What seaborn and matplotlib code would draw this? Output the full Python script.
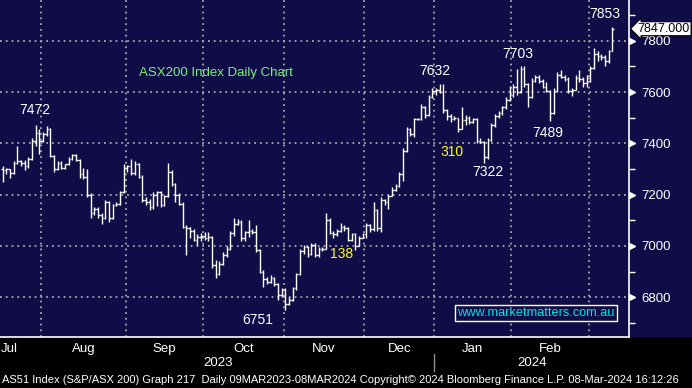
import matplotlib
matplotlib.use("Agg")
import numpy as np
import matplotlib.pyplot as plt
import seaborn as sns
from matplotlib.patches import Rectangle

# ASX200 daily OHLC, mid Jul 2023 -> 8 Mar 2024
month_names = ["Jul", "Aug", "Sep", "Oct", "Nov", "Dec", "Jan", "Feb"]
month_days = [11, 23, 21, 22, 22, 19, 21, 21, 7]   # bars per month (Jul partial, Mar partial)

open_px = [
    7300, 7295, 7300, 7285, 7325, 7330, 7325, 7310, 7340, 7410, 7440,
    7410, 7435, 7455, 7350, 7300, 7325, 7305, 7318, 7340, 7355, 7335, 7280, 7270, 7200, 7130, 7145, 7120, 7110, 7170, 7110, 7160, 7165, 7210,
    7305, 7310, 7285, 7320, 7270, 7180, 7170, 7150, 7200, 7210, 7160, 7195, 7290, 7240, 7200, 7165, 7075, 7070, 7060, 7025, 7035,
    7040, 7030, 7035, 6925, 6890, 6930, 6965, 6990, 7050, 7085, 7095, 7030, 7055, 7060, 7055, 6985, 6900, 6870, 6860, 6875, 6850, 6810,
    6830, 6775, 6790, 6835, 6890, 6980, 6995, 6970, 7005, 6965, 6990, 6990, 7100, 7050, 7045, 7060, 7075, 7070, 7025, 7045, 7000, 7030,
    7045, 7080, 7065, 7140, 7070, 7180, 7170, 7195, 7220, 7235, 7280, 7370, 7455, 7435, 7495, 7495, 7540, 7510, 7580,
    7605, 7610, 7600, 7530, 7505, 7495, 7500, 7455, 7490, 7500, 7485, 7495, 7410, 7405, 7345, 7415, 7470, 7505, 7520, 7540, 7570,
    7590, 7620, 7600, 7690, 7630, 7580, 7645, 7660, 7645, 7620, 7605, 7520, 7605, 7665, 7660, 7650, 7605, 7610, 7655, 7650, 7635,
    7655, 7695, 7750, 7740, 7735, 7720, 7760,
]
high_px = [
    7310, 7305, 7300, 7330, 7390, 7335, 7335, 7345, 7420, 7472, 7455,
    7445, 7466, 7458, 7355, 7330, 7330, 7320, 7345, 7360, 7360, 7340, 7305, 7300, 7205, 7150, 7150, 7130, 7180, 7175, 7165, 7170, 7215, 7320,
    7315, 7340, 7330, 7325, 7275, 7190, 7185, 7210, 7215, 7215, 7200, 7325, 7295, 7245, 7205, 7170, 7080, 7075, 7065, 7045, 7050,
    7055, 7055, 7040, 6945, 6940, 6975, 7000, 7060, 7110, 7105, 7100, 7060, 7100, 7065, 7080, 6990, 6905, 6880, 6885, 6880, 6855, 6835,
    6835, 6800, 6840, 6895, 6990, 7005, 7000, 7010, 7010, 6995, 6995, 7130, 7110, 7060, 7065, 7090, 7080, 7075, 7050, 7050, 7040, 7050,
    7090, 7085, 7170, 7145, 7190, 7185, 7200, 7230, 7240, 7290, 7380, 7465, 7460, 7500, 7500, 7555, 7545, 7590, 7615,
    7615, 7632, 7630, 7535, 7515, 7505, 7500, 7540, 7510, 7505, 7500, 7500, 7420, 7410, 7420, 7480, 7515, 7525, 7545, 7580, 7625,
    7630, 7690, 7703, 7700, 7635, 7655, 7665, 7665, 7650, 7640, 7610, 7615, 7680, 7685, 7665, 7660, 7615, 7665, 7685, 7660, 7665,
    7700, 7770, 7760, 7750, 7745, 7765, 7853,
]
low_px = [
    7250, 7280, 7265, 7280, 7320, 7310, 7295, 7305, 7335, 7390, 7360,
    7405, 7430, 7345, 7290, 7295, 7300, 7300, 7315, 7335, 7330, 7265, 7260, 7190, 7110, 7120, 7110, 7085, 7105, 7095, 7105, 7155, 7160, 7205,
    7290, 7275, 7275, 7265, 7170, 7160, 7140, 7145, 7155, 7150, 7155, 7190, 7235, 7170, 7160, 7070, 6965, 7030, 7020, 7005, 7020,
    7025, 7020, 6915, 6875, 6885, 6925, 6955, 6985, 7040, 7080, 7020, 7020, 7035, 7045, 6975, 6895, 6840, 6850, 6855, 6845, 6790, 6800,
    6751, 6770, 6785, 6830, 6885, 6970, 6955, 6965, 6955, 6955, 6980, 6990, 7045, 7030, 7040, 7055, 7060, 7020, 7020, 6985, 7000, 7030,
    7030, 7055, 7060, 7060, 7055, 7160, 7145, 7195, 7215, 7230, 7255, 7365, 7430, 7425, 7490, 7490, 7500, 7505, 7575,
    7590, 7595, 7520, 7490, 7485, 7490, 7445, 7455, 7470, 7475, 7480, 7400, 7400, 7322, 7340, 7410, 7465, 7500, 7510, 7535, 7565,
    7580, 7590, 7595, 7620, 7542, 7575, 7640, 7635, 7615, 7600, 7489, 7515, 7600, 7655, 7645, 7595, 7585, 7610, 7640, 7620, 7620,
    7640, 7690, 7720, 7725, 7700, 7715, 7760,
]
close_px = [
    7295, 7300, 7285, 7325, 7330, 7325, 7310, 7340, 7410, 7440, 7410,
    7435, 7455, 7350, 7300, 7325, 7305, 7318, 7340, 7355, 7335, 7280, 7270, 7200, 7130, 7145, 7120, 7110, 7170, 7110, 7160, 7165, 7210, 7305,
    7310, 7285, 7320, 7270, 7180, 7170, 7150, 7200, 7210, 7160, 7195, 7290, 7240, 7200, 7165, 7075, 7070, 7060, 7025, 7035, 7040,
    7030, 7035, 6925, 6890, 6930, 6965, 6990, 7050, 7085, 7095, 7030, 7055, 7060, 7055, 6985, 6900, 6870, 6860, 6875, 6850, 6810, 6830,
    6775, 6790, 6835, 6890, 6980, 6995, 6970, 7005, 6965, 6990, 6990, 7100, 7050, 7045, 7060, 7075, 7070, 7025, 7045, 7000, 7030, 7045,
    7080, 7065, 7140, 7070, 7180, 7170, 7195, 7220, 7235, 7280, 7370, 7455, 7435, 7495, 7495, 7540, 7510, 7580, 7605,
    7610, 7600, 7530, 7505, 7495, 7500, 7455, 7490, 7500, 7485, 7495, 7410, 7405, 7345, 7415, 7470, 7505, 7520, 7540, 7570, 7590,
    7620, 7600, 7690, 7630, 7580, 7645, 7660, 7645, 7620, 7605, 7520, 7605, 7665, 7660, 7650, 7605, 7610, 7655, 7650, 7635, 7655,
    7695, 7750, 7740, 7735, 7720, 7760, 7847,
]

price_ticks = [6800, 7000, 7200, 7400, 7600, 7800]
last_price = 7847.0

# chart annotations: (text, bar position, price, colour)
notes = [
    ("7472", 9.3, 7530, "white"),
    ("7632", 118.2, 7682, "white"),
    ("7322", 132.6, 7288, "white"),
    ("7703", 140.8, 7748, "white"),
    ("7489", 149.0, 7440, "white"),
    ("7853", 164.5, 7904, "white"),
    ("6751", 70.0, 6712, "white"),
    ("310", 122.8, 7366, "#ffff00"),
    ("138", 92.9, 6969, "#ffff00"),
]

NAVY = "#100c48"
GRID = "#a8a8a8"

sns.set_theme(style="dark")
plt.rcParams["font.family"] = ["Liberation Sans", "DejaVu Sans"]

fig = plt.figure(figsize=(6.92, 3.88), dpi=100)
fig.patch.set_facecolor("black")
# navy band behind the plot and the price scale
fig.add_artist(Rectangle((0, 51 / 388), 1, 337 / 388, transform=fig.transFigure,
                         facecolor=NAVY, edgecolor="none", zorder=-10))
ax = fig.add_axes([0, 51 / 388, 629 / 692, 337 / 388])
ax.set_facecolor(NAVY)

n = len(close_px)
x = np.arange(n) + 0.5
w = 0.45
ax.vlines(x, low_px, high_px, color="white", lw=1.0, zorder=3)
ax.hlines(open_px, x - w, x, color="white", lw=1.0, zorder=3)
ax.hlines(close_px, x, x + w, color="white", lw=1.0, zorder=3)

ax.set_xlim(-0.2, 171.0)
ax.set_ylim(6645, 7959)

# month boundaries
starts = np.cumsum([0] + month_days)[1:-1]
centers = [2.4] + [(a + b) / 2 for a, b in zip(starts[:-1], starts[1:])]
ax.set_xticks(starts)
ax.set_xticklabels([])
ax.set_xticks(centers, minor=True)
ax.set_xticklabels(month_names, minor=True)
ax.tick_params(axis="x", which="major", direction="out", length=4, width=1, color="white")
ax.tick_params(axis="x", which="minor", length=0, pad=4, labelsize=9.5, labelcolor="white")

ax.yaxis.tick_right()
ax.set_yticks(price_ticks)
ax.set_yticks(np.arange(6700, 7960, 200), minor=True)
ax.tick_params(axis="y", which="major", length=0, pad=9, labelsize=9.5, labelcolor="white")
ax.tick_params(axis="y", which="minor", direction="out", length=4, width=1, color="white")
yt = ax.get_yaxis_transform()
ax.plot([1.0055] * len(price_ticks), price_ticks, marker=">", ms=5, color="white",
        ls="none", transform=yt, clip_on=False)

for v in price_ticks:
    ax.axhline(v, color=GRID, lw=1.3, ls=(0, (1, 2.2)), zorder=1)
for s in starts:
    ax.axvline(s, color=GRID, lw=1.3, ls=(0, (1, 2.2)), zorder=1)
ax.grid(False)

for side in ["left", "top"]:
    ax.spines[side].set_visible(False)
for side in ["right", "bottom"]:
    ax.spines[side].set_visible(True)
    ax.spines[side].set_color("white")
    ax.spines[side].set_linewidth(1.2)

# year labels under the month axis
xt = ax.get_xaxis_transform()
ax.text(59.2, -0.077, "2023", color="white", fontsize=9.5, ha="center", va="center",
        transform=xt, clip_on=False)
ax.text(144.6, -0.077, "2024", color="white", fontsize=9.5, ha="center", va="center",
        transform=xt, clip_on=False)
ax.plot([118, 118], [-0.05, -0.1], color="#909090", lw=1, transform=xt, clip_on=False)

for txt, px, py, col in notes:
    ax.text(px, py, txt, color=col, fontsize=10, ha="center", va="center", zorder=4)

ax.text(58.6, 7674, "ASX200 Index Daily Chart", color="#7cf07c", fontsize=9.5,
        ha="center", va="center")
ax.text(145.7, 6739, "www.marketmatters.com.au", color="#00e5e5", fontsize=9.2,
        ha="center", va="center", zorder=5,
        bbox=dict(boxstyle="square,pad=0.15", fc=NAVY, ec="white", lw=1))

ax.text(1.014, last_price, f"{last_price:.3f}", color="black", fontsize=9,
        ha="left", va="center", transform=yt, clip_on=False, zorder=6,
        bbox=dict(boxstyle="larrow,pad=0.08", fc="white", ec="black", lw=0.8))

fig.text(0.003, 8 / 388, "AS51 Index (S&P/ASX 200) Graph 217  Daily 09MAR2023-08MAR2024 "
         "Copyright\u00a9 2024 Bloomberg Finance L.P. 08-Mar-2024 16:12:26",
         color="white", fontsize=8.05, ha="left", va="center")

fig.savefig("out.png", dpi=100, facecolor=fig.get_facecolor())
